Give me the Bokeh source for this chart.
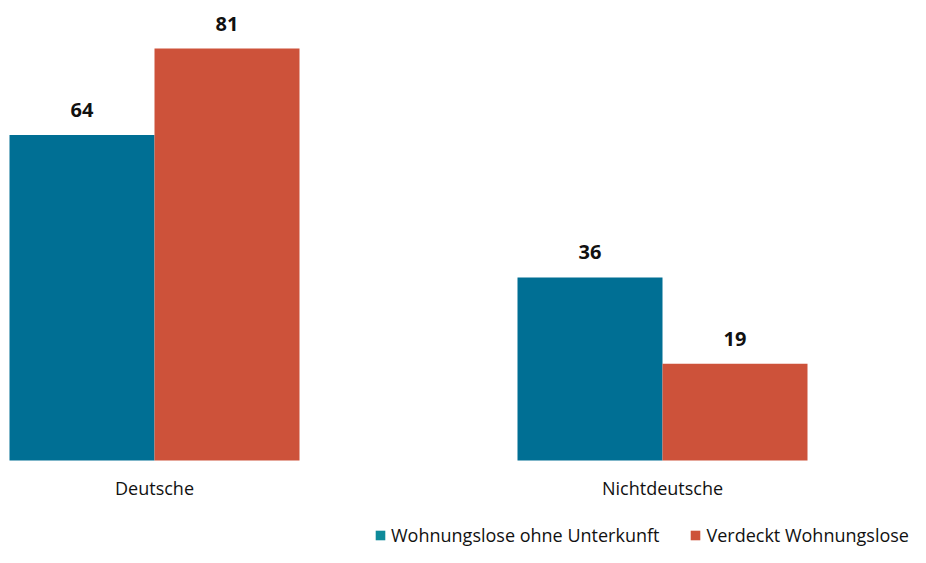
from bokeh.plotting import figure
from bokeh.models import ColumnDataSource, Legend, LegendItem, Range1d
from bokeh.core.properties import value
from bokeh.embed import file_html
from bokeh.resources import INLINE

categories = ["Deutsche", "Nichtdeutsche"]
series_names = ["Wohnungslose ohne Unterkunft", "Verdeckt Wohnungslose"]
ohne_unterkunft = [64, 36]
verdeckt = [81, 19]

bar_colors = ["#006F94", "#CD523A"]
legend_colors = ["#0E8A9A", "#CD523A"]
FONT = "Open Sans"

W, H = 910, 547
px_per_cat = 508.0
base_y = 460.0
px_per_unit = 412.0 / 81
left0 = 154.0
bw = 145.0 / px_per_cat

xs = list(range(len(categories)))
src = ColumnDataSource(dict(
    x=xs,
    x1=[x - bw / 2 for x in xs],
    x2=[x + bw / 2 for x in xs],
    a=ohne_unterkunft,
    b=verdeckt,
    la=[str(v) for v in ohne_unterkunft],
    lb=[str(v) for v in verdeckt],
    cat=categories,
    zero=[0] * len(categories),
))

p = figure(frame_width=W, frame_height=H, output_backend="svg", toolbar_location=None,
           x_range=Range1d(-left0 / px_per_cat, (W - left0) / px_per_cat),
           y_range=Range1d(-(H - base_y) / px_per_unit, base_y / px_per_unit),
           min_border=0, x_axis_location=None, y_axis_location=None)
p.outline_line_color = None
p.grid.grid_line_color = None
p.background_fill_color = "white"

p.vbar(x="x1", width=bw, top="a", bottom=0, source=src, fill_color=bar_colors[0], line_color=None)
p.vbar(x="x2", width=bw, top="b", bottom=0, source=src, fill_color=bar_colors[1], line_color=None)

p.text(x="x1", y="a", text="la", source=src, text_align="center", text_baseline="middle",
       y_offset=-25, text_font=value(FONT), text_font_style="bold", text_font_size="20px",
       text_color="#111111")
p.text(x="x2", y="b", text="lb", source=src, text_align="center", text_baseline="middle",
       y_offset=-25, text_font=value(FONT), text_font_style="bold", text_font_size="20px",
       text_color="#111111")

# category labels under each group
p.text(x="x", y="zero", text="cat", source=src, text_align="center", text_baseline="middle",
       y_offset=27, text_font=value(FONT), text_font_size="18px", text_color="#111111")

nan = float("nan")
dummy = ColumnDataSource(dict(x=[nan], top=[nan]))
r1 = p.vbar(x="x", top="top", width=0.1, source=dummy, fill_color=legend_colors[0], line_color=None)
r2 = p.vbar(x="x", top="top", width=0.1, source=dummy, fill_color=legend_colors[1], line_color=None)

legend = Legend(items=[LegendItem(label=series_names[0], renderers=[r1]),
                       LegendItem(label=series_names[1], renderers=[r2])],
                orientation="horizontal", location=(374, 0),
                glyph_width=12, glyph_height=12, label_standoff=5, spacing=30,
                label_text_font=FONT, label_text_font_size="18px", label_text_color="#111111",
                border_line_color=None, background_fill_alpha=0, padding=0, margin=0)
p.add_layout(legend)

open("out.html", "w").write(file_html(p, INLINE))
